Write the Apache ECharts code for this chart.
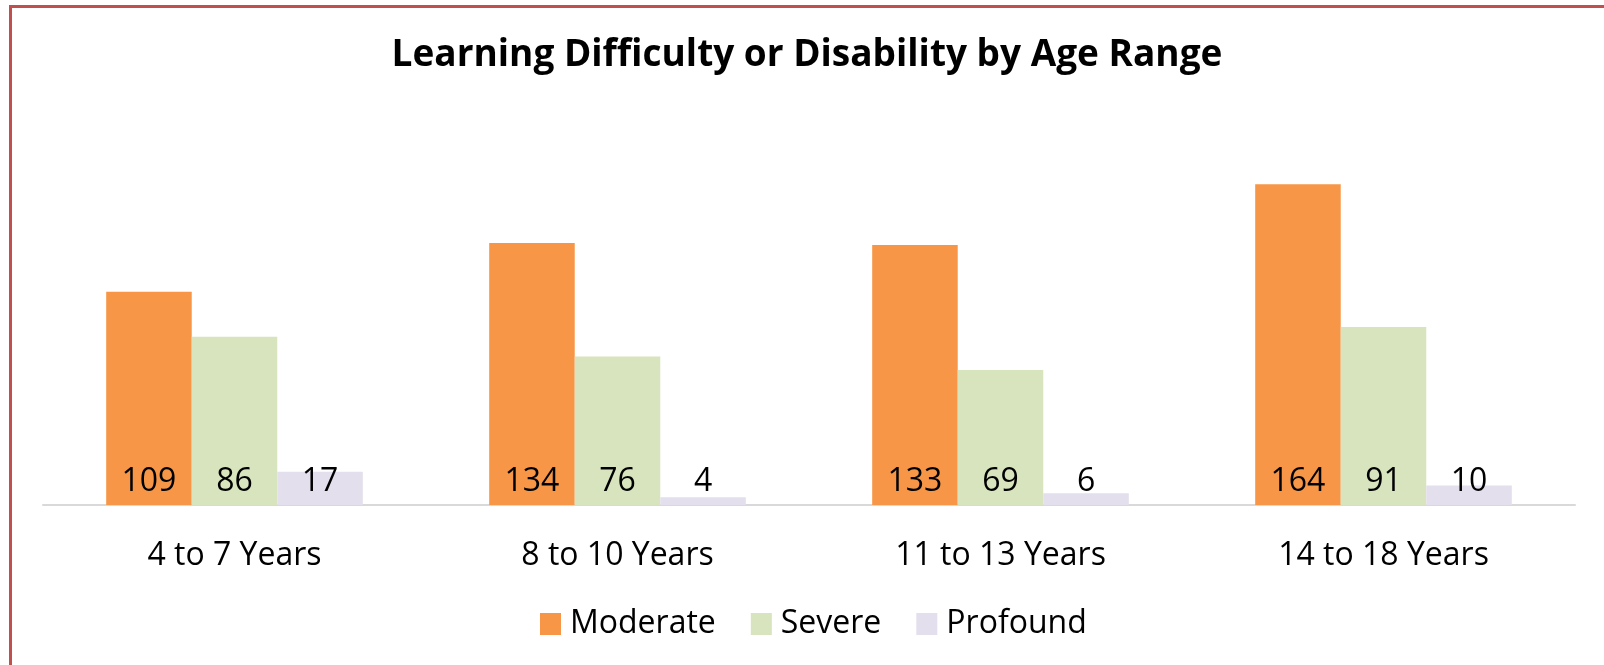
<!DOCTYPE html>
<html>
<head>
<meta charset="utf-8">
<script src="https://cdn.jsdelivr.net/npm/echarts@6/dist/echarts.min.js"></script>
<style>
    html, body { margin: 0; padding: 0; background: #fff; }
    #chart { width: 1604px; height: 665px; }
</style>
</head>
<body>
<div id="chart"></div>
<script>
    // 数据
    var categories = ['4 to 7 Years', '8 to 10 Years', '11 to 13 Years', '14 to 18 Years'];
    var moderate = [109, 134, 133, 164];
    var severe = [86, 76, 69, 91];
    var profound = [17, 4, 6, 10];

    var font = '"Open Sans", "Noto Sans", sans-serif';

    var myChart = echarts.init(document.getElementById('chart'));

    var label = {
        show: true,
        position: 'insideBottom',
        distance: 7,
        color: '#000',
        fontFamily: font,
        fontSize: 32
    };

    var option = {
        backgroundColor: '#fff',
        animation: false,
        title: {
            text: 'Learning Difficulty or Disability by Age Range',
            left: 802,
            textAlign: 'center',
            top: 32,
            textStyle: {
                fontFamily: font,
                fontWeight: 'bold',
                fontSize: 37,
                color: '#000'
            }
        },
        legend: {
            left: 535,
            top: 603,
            itemWidth: 21,
            itemHeight: 22,
            itemGap: 35,
            icon: 'rect',
            textStyle: {
                fontFamily: font,
                fontSize: 32,
                color: '#000',
                padding: [0, 0, 0, 4]
            },
            data: ['Moderate', 'Severe', 'Profound']
        },
        grid: {
            left: 43,
            right: 29,
            top: 153,
            bottom: 160
        },
        xAxis: {
            type: 'category',
            data: categories,
            axisTick: { show: false },
            axisLine: { lineStyle: { color: '#d9d9d9', width: 2 } },
            axisLabel: {
                margin: 35,
                color: '#000',
                fontFamily: font,
                fontSize: 32
            }
        },
        yAxis: {
            type: 'value',
            min: 0,
            max: 180,
            show: false,
            splitLine: { show: false }
        },
        graphic: [
            { type: 'rect', shape: { x: 9, y: 5, width: 1595, height: 3 }, style: { fill: '#c0504d' } },
            { type: 'rect', shape: { x: 9, y: 5, width: 3, height: 660 }, style: { fill: '#c0504d' } }
        ],
        series: [
            { name: 'Moderate', type: 'bar', data: moderate, barGap: '0%', barCategoryGap: '33%',
              itemStyle: { color: '#f79646' }, label: label },
            { name: 'Severe', type: 'bar', data: severe,
              itemStyle: { color: '#d7e4bd' }, label: label },
            { name: 'Profound', type: 'bar', data: profound,
              itemStyle: { color: '#e4dfec' }, label: label }
        ]
    };

    myChart.setOption(option);
</script>
</body>
</html>
